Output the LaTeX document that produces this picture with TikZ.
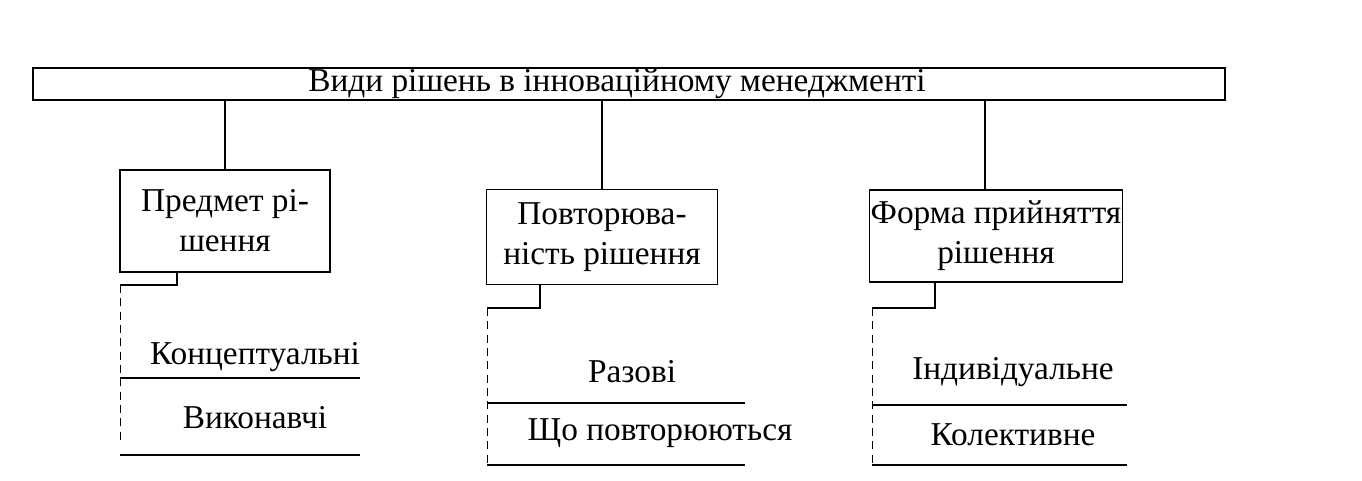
\documentclass[tikz,border=0pt]{standalone}
\usepackage{fontspec}
\setmainfont{Liberation Serif}
\begin{document}
\begin{tikzpicture}[x=0.75pt,y=-0.75pt,
  box/.style={draw,line width=0.9pt,inner sep=0pt,align=center,font=\fontsize{25}{30}\selectfont},
  lbl/.style={font=\fontsize{25}{30}\selectfont},
  ln/.style={line width=0.9pt},
  dl/.style={line width=0.7pt,dash pattern=on 6pt off 4pt}]
\useasboundingbox (0,0) rectangle (1362,481);
\node[box,minimum width=1192*0.75pt,minimum height=32*0.75pt] (top) at (629,84) {};
\node[lbl] (toptext) at (617,84) {Види рішень в інноваційному менеджменті};
\node[box,minimum width=210*0.75pt,minimum height=102*0.75pt] (b1) at (225,221) {Предмет рі-\\шення};
\node[box,minimum width=231*0.75pt,minimum height=95*0.75pt] (b2) at (602,237) {Повторюва-\\ність рішення};
\node[box,minimum width=253*0.75pt,minimum height=92*0.75pt] (b3) at (996,236) {Форма прийняття\\рішення};
\draw[ln] (top.south -| b1) -- (b1.north);
\draw[ln] (top.south -| b2) -- (b2.north);
\draw[ln] (top.south -| 985,0) -- (985,190) coordinate (b3t);
% group 1
\coordinate (g1a) at (177,272); \coordinate (g1b) at (177,285); \coordinate (g1c) at (120,285); \coordinate (g1d) at (120,440);
\draw[ln] (g1a) -- (g1b) -- (g1c);
\draw[dl] (g1c) -- (g1d);
\node[lbl] (c1) at (255,357) {Концептуальні};
\node[lbl] (c2) at (255,418) {Виконавчі};
\coordinate (l1a) at (120,378); \coordinate (l1b) at (360,378);
\coordinate (l2a) at (120,455); \coordinate (l2b) at (360,455);
\draw[ln] (l1a) -- (l1b); \draw[ln] (l2a) -- (l2b);
% group 2
\coordinate (g2a) at (540,285); \coordinate (g2b) at (540,308); \coordinate (g2c) at (487,308); \coordinate (g2d) at (487,465);
\draw[ln] (g2a) -- (g2b) -- (g2c);
\draw[dl] (g2c) -- (g2d);
\node[lbl] (r1) at (632,372) {Разові};
\node[lbl] (r2) at (660,433) {Що повторюються};
\coordinate (m1a) at (487,403); \coordinate (m1b) at (745,403);
\coordinate (m2a) at (487,465); \coordinate (m2b) at (745,465);
\draw[ln] (m1a) -- (m1b); \draw[ln] (m2a) -- (m2b);
% group 3
\coordinate (g3a) at (935,282); \coordinate (g3b) at (935,308); \coordinate (g3c) at (872,308); \coordinate (g3d) at (872,465);
\draw[ln] (g3a) -- (g3b) -- (g3c);
\draw[dl] (g3c) -- (g3d);
\node[lbl] (f1) at (1013,372) {Індивідуальне};
\node[lbl] (f2) at (1013,435) {Колективне};
\coordinate (n1a) at (872,405); \coordinate (n1b) at (1127,405);
\coordinate (n2a) at (872,465); \coordinate (n2b) at (1127,465);
\draw[ln] (n1a) -- (n1b); \draw[ln] (n2a) -- (n2b);
\end{tikzpicture}
\end{document}
